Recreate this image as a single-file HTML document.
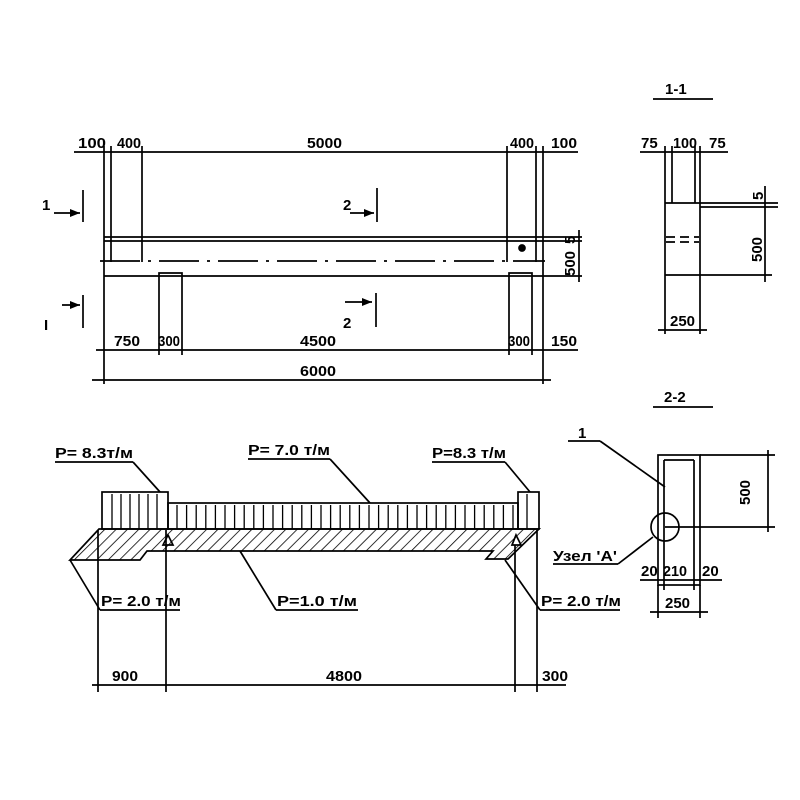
<!DOCTYPE html>
<html><head><meta charset="utf-8"><style>
html,body{margin:0;padding:0;background:#fff}
svg{display:block}
text{font-family:"Liberation Sans Narrow","Liberation Sans",sans-serif;font-weight:bold;font-size:15px;fill:#000}
</style></head><body>
<svg width="800" height="800" viewBox="0 0 800 800" xmlns="http://www.w3.org/2000/svg">
<defs>
<pattern id="h" width="8" height="8" patternUnits="userSpaceOnUse" patternTransform="rotate(45)">
<line x1="0" y1="0" x2="0" y2="8" stroke="#000" stroke-width="1.6"/>
</pattern>
</defs>
<g stroke="#000" stroke-width="1.7" fill="none">
<line x1="74" y1="152" x2="578" y2="152"/>
<line x1="104" y1="146" x2="104" y2="384"/>
<line x1="111" y1="146" x2="111" y2="262"/>
<line x1="142" y1="146" x2="142" y2="262"/>
<line x1="507" y1="146" x2="507" y2="262"/>
<line x1="536" y1="146" x2="536" y2="262"/>
<line x1="543" y1="146" x2="543" y2="384"/>
<line x1="104" y1="237" x2="582" y2="237"/>
<line x1="104" y1="241" x2="582" y2="241"/>
<line x1="104" y1="276" x2="582" y2="276"/>
<line x1="100" y1="261" x2="545" y2="261" stroke-dasharray="40,8,3,8"/>
<line x1="579" y1="230" x2="579" y2="282"/>
<circle cx="522" cy="248" r="3" fill="#000"/>
<path d="M159 355 V273 H182 V355"/>
<path d="M509 355 V273 H532 V355"/>
<line x1="96" y1="350" x2="578" y2="350"/>
<line x1="92" y1="380" x2="551" y2="380"/>
<line x1="83" y1="190" x2="83" y2="222"/>
<line x1="54" y1="213" x2="80" y2="213"/>
<line x1="83" y1="295" x2="83" y2="328"/>
<line x1="62" y1="305" x2="80" y2="305"/>
<line x1="377" y1="188" x2="377" y2="222"/>
<line x1="350" y1="213" x2="374" y2="213"/>
<line x1="376" y1="293" x2="376" y2="327"/>
<line x1="345" y1="302" x2="372" y2="302"/>
</g>
<g fill="#000">
<polygon points="80,213 70,209 70,217"/>
<polygon points="80,305 70,301 70,309"/>
<polygon points="374,213 364,209 364,217"/>
<polygon points="372,302 362,298 362,306"/>
</g>
<text x="78" y="148" textLength="28" lengthAdjust="spacingAndGlyphs">100</text><text x="117" y="148" textLength="24" lengthAdjust="spacingAndGlyphs">400</text>
<text x="307" y="148" textLength="35" lengthAdjust="spacingAndGlyphs">5000</text>
<text x="510" y="148" textLength="24" lengthAdjust="spacingAndGlyphs">400</text><text x="551" y="148" textLength="26" lengthAdjust="spacingAndGlyphs">100</text>
<text x="42" y="210" font-size="18">1</text>
<text x="44" y="330" font-size="18">I</text>
<text x="343" y="210" font-size="18">2</text>
<text x="343" y="328" font-size="18">2</text>
<text x="114" y="346" textLength="26" lengthAdjust="spacingAndGlyphs">750</text><text x="158" y="346" font-size="13" textLength="22" lengthAdjust="spacingAndGlyphs">300</text>
<text x="300" y="346" textLength="36" lengthAdjust="spacingAndGlyphs">4500</text><text x="508" y="346" font-size="13" textLength="22" lengthAdjust="spacingAndGlyphs">300</text>
<text x="551" y="346" textLength="26" lengthAdjust="spacingAndGlyphs">150</text>
<text x="300" y="376" textLength="36" lengthAdjust="spacingAndGlyphs">6000</text>
<text transform="translate(575,244) rotate(-90)" font-size="13">5</text>
<text transform="translate(575,276) rotate(-90)" font-size="13">500</text>

<g stroke="#000" stroke-width="1.7" fill="none">
<rect x="102" y="492" width="66" height="37"/>
<rect x="168" y="503" width="350" height="26"/>
<rect x="518" y="492" width="21" height="37"/>
<polygon points="99,529 539,529 508,559 486,559 493,551 147,551 140,560 70,560" fill="url(#h)"/>
<path d="M163 545 L168 535 L173 545 Z"/>
<path d="M512 545 L516 535 L521 545 Z"/>
<line x1="55" y1="462" x2="133" y2="462"/><line x1="133" y1="462" x2="160" y2="492"/>
<line x1="248" y1="459" x2="330" y2="459"/><line x1="330" y1="459" x2="370" y2="503"/>
<line x1="432" y1="462" x2="505" y2="462"/><line x1="505" y1="462" x2="530" y2="492"/>
<line x1="100" y1="610" x2="180" y2="610"/><line x1="100" y1="610" x2="70" y2="560"/>
<line x1="276" y1="610" x2="358" y2="610"/><line x1="276" y1="610" x2="240" y2="551"/>
<line x1="540" y1="610" x2="620" y2="610"/><line x1="540" y1="610" x2="505" y2="560"/>
<line x1="98" y1="530" x2="98" y2="692"/>
<line x1="166" y1="530" x2="166" y2="692"/>
<line x1="515" y1="545" x2="515" y2="692"/>
<line x1="537" y1="530" x2="537" y2="692"/>
<line x1="92" y1="685" x2="566" y2="685"/>
</g>
<g stroke="#000" stroke-width="1.3">
<line x1="112" y1="494" x2="112" y2="529"/><line x1="121" y1="494" x2="121" y2="529"/>
<line x1="130" y1="494" x2="130" y2="529"/><line x1="139" y1="494" x2="139" y2="529"/>
<line x1="148" y1="494" x2="148" y2="529"/><line x1="157" y1="494" x2="157" y2="529"/>
<line x1="527" y1="494" x2="527" y2="529"/>
</g>
<g stroke="#000" stroke-width="1.3" id="vl"></g>
<text x="55" y="458" textLength="78" lengthAdjust="spacingAndGlyphs">P= 8.3т/м</text>
<text x="248" y="455" textLength="82" lengthAdjust="spacingAndGlyphs">P= 7.0 т/м</text>
<text x="432" y="458" textLength="74" lengthAdjust="spacingAndGlyphs">P=8.3 т/м</text>
<text x="101" y="606" textLength="80" lengthAdjust="spacingAndGlyphs">P= 2.0 т/м</text>
<text x="277" y="606" textLength="80" lengthAdjust="spacingAndGlyphs">P=1.0 т/м</text>
<text x="541" y="606" textLength="80" lengthAdjust="spacingAndGlyphs">P= 2.0 т/м</text>
<text x="112" y="681" textLength="26" lengthAdjust="spacingAndGlyphs">900</text>
<text x="326" y="681" textLength="36" lengthAdjust="spacingAndGlyphs">4800</text>
<text x="542" y="681" textLength="26" lengthAdjust="spacingAndGlyphs">300</text>

<g stroke="#000" stroke-width="1.7" fill="none">
<line x1="653" y1="99" x2="713" y2="99"/>
<line x1="640" y1="152" x2="728" y2="152"/>
<line x1="665" y1="146" x2="665" y2="334"/>
<line x1="700" y1="146" x2="700" y2="334"/>
<line x1="672" y1="146" x2="672" y2="203"/>
<line x1="695" y1="146" x2="695" y2="203"/>
<line x1="665" y1="203" x2="778" y2="203"/>
<line x1="700" y1="207" x2="778" y2="207"/>
<line x1="666" y1="237" x2="699" y2="237" stroke-dasharray="9,5"/>
<line x1="666" y1="242" x2="699" y2="242" stroke-dasharray="9,5"/>
<line x1="665" y1="275" x2="772" y2="275"/>
<line x1="765" y1="186" x2="765" y2="282"/>
<line x1="658" y1="330" x2="707" y2="330"/>
</g>
<text x="665" y="94" font-size="18">1-1</text>
<text x="641" y="148">75</text><text x="673" y="148" textLength="24" lengthAdjust="spacingAndGlyphs">100</text><text x="709" y="148">75</text>
<text transform="translate(763,200) rotate(-90)" font-size="13">5</text>
<text transform="translate(762,262) rotate(-90)" font-size="13">500</text>
<text x="670" y="326">250</text>

<g stroke="#000" stroke-width="1.7" fill="none">
<line x1="653" y1="407" x2="713" y2="407"/>
<rect x="658" y="455" width="42" height="130"/>
<line x1="664" y1="460" x2="664" y2="590"/>
<line x1="694" y1="460" x2="694" y2="590"/>
<line x1="664" y1="460" x2="694" y2="460"/>
<line x1="700" y1="455" x2="775" y2="455"/>
<line x1="665" y1="527" x2="775" y2="527"/>
<line x1="768" y1="450" x2="768" y2="532"/>
<circle cx="665" cy="527" r="14"/>
<line x1="568" y1="441" x2="600" y2="441"/><line x1="600" y1="441" x2="665" y2="487"/>
<line x1="553" y1="564" x2="618" y2="564"/><line x1="618" y1="564" x2="653" y2="537"/>
<line x1="640" y1="580" x2="722" y2="580"/>
<line x1="650" y1="612" x2="708" y2="612"/>
<line x1="658" y1="585" x2="658" y2="618"/>
<line x1="700" y1="585" x2="700" y2="618"/>
</g>
<text x="664" y="402" font-size="18">2-2</text>
<text x="578" y="438" font-size="18">1</text>
<text transform="translate(750,505) rotate(-90)" font-size="13">500</text>
<text x="553" y="561" font-size="12" textLength="64" lengthAdjust="spacingAndGlyphs">Узел 'А'</text>
<text x="641" y="576">20</text><text x="663" y="576" textLength="24" lengthAdjust="spacingAndGlyphs">210</text><text x="702" y="576">20</text>
<text x="665" y="608">250</text>
</svg>
<script>
var g=document.getElementById('vl');
for(var x=177;x<516;x+=9.6){var l=document.createElementNS('http://www.w3.org/2000/svg','line');l.setAttribute('x1',x);l.setAttribute('x2',x);l.setAttribute('y1',505);l.setAttribute('y2',529);g.appendChild(l);}
</script>
</body></html>
